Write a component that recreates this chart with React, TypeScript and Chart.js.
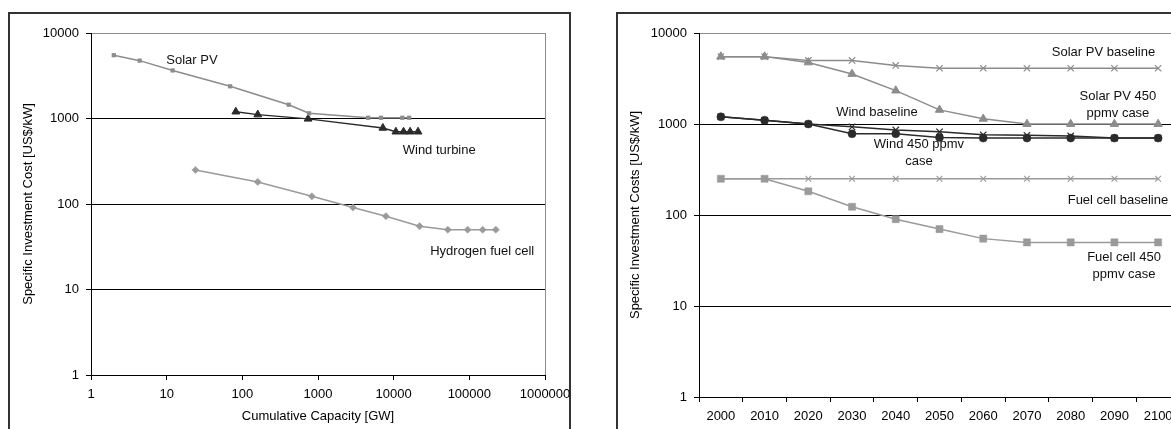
import { useEffect, useRef } from 'react';
import { Chart, registerables } from 'chart.js';

Chart.register(...registerables);

const FONT = '"Liberation Sans", Arial, Helvetica, sans-serif';
const FS = 13;
const GRAY = '#8c8c8c';
const LIGHT = '#9a9a9a';
const DARK = '#2b2b2b';

// ---- Learning curves: cost vs. cumulative installed capacity ----
const solarCapacity = [2, 4.4, 12, 69, 410, 760, 4600, 6800, 13000, 16000];
const solarCost = [5500, 4750, 3650, 2380, 1450, 1150, 1020, 1020, 1020, 1020];

const windCapacity = [82, 160, 740, 7200, 10700, 13500, 16500, 21000];
const windCost = [1200, 1110, 990, 775, 700, 700, 700, 700];

const fuelCellCapacity = [24, 160, 830, 2900, 7900, 22000, 52000, 95000, 150000, 224000];
const fuelCellCost = [250, 181, 123, 91, 72, 55, 50, 50, 50, 50];

const capacityTicks = [1, 10, 100, 1000, 10000, 100000, 1000000];
const costTicks = [1, 10, 100, 1000, 10000];

// ---- Cost projections per decade ----
const years = ['2000', '2010', '2020', '2030', '2040', '2050', '2060', '2070', '2080', '2090', '2100'];
const solarBaseline = [5500, 5500, 5000, 5000, 4400, 4100, 4100, 4100, 4100, 4100, 4100];
const solar450 = [5500, 5500, 4750, 3550, 2330, 1430, 1140, 1000, 1000, 1000, 1000];
const windBaseline = [1200, 1100, 1000, 930, 860, 820, 760, 750, 740, 700, 700];
const wind450 = [1200, 1100, 1000, 780, 780, 710, 700, 700, 700, 700, 700];
const fuelCellBaseline = [250, 250, 250, 250, 250, 250, 250, 250, 250, 250, 250];
const fuelCell450 = [250, 250, 182, 123, 90, 70, 55, 50, 50, 50, 50];

type Note = { lines: string[]; x: number; y: number };

// Curve captions, anchored in data coordinates
const leftNotes: Note[] = [
  { lines: ['Solar PV'], x: 21.6, y: 4800 },
  { lines: ['Wind turbine'], x: 40000, y: 425 },
  { lines: ['Hydrogen fuel cell'], x: 148000, y: 28 },
];
const rightNotes: Note[] = [
  { lines: ['Solar PV baseline'], x: 8.75, y: 6150 },
  { lines: ['Solar PV 450', 'ppmv case'], x: 9.08, y: 2020 },
  { lines: ['Wind baseline'], x: 3.57, y: 1340 },
  { lines: ['Wind 450 ppmv', 'case'], x: 4.53, y: 590 },
  { lines: ['Fuel cell baseline'], x: 9.08, y: 146 },
  { lines: ['Fuel cell 450', 'ppmv case'], x: 9.22, y: 34 },
];

const notesPlugin = (notes: Note[]) => ({
  id: 'notes',
  afterDatasetsDraw(chart: any) {
    const { ctx } = chart;
    ctx.save();
    ctx.font = `${FS}px ${FONT}`;
    ctx.fillStyle = '#111';
    ctx.textAlign = 'center';
    ctx.textBaseline = 'middle';
    for (const n of notes) {
      const px = chart.scales.x.getPixelForValue(n.x);
      const py = chart.scales.y.getPixelForValue(n.y);
      n.lines.forEach((t, i) => ctx.fillText(t, px, py + i * 17));
    }
    ctx.restore();
  },
});

const axisFont = { family: FONT, size: FS };
const toPoints = (xs: number[], ys: number[]) => xs.map((x, i) => ({ x, y: ys[i] }));

function costAxis(title: string, titlePad: number, width: number) {
  return {
    type: 'logarithmic' as const,
    min: 1,
    max: 10000,
    afterBuildTicks: (s: any) => {
      s.ticks = costTicks.map((value) => ({ value }));
    },
    afterFit: (s: any) => {
      s.width = width;
    },
    ticks: {
      autoSkip: false,
      padding: 7,
      color: '#000',
      font: axisFont,
      callback: (v: any) => String(v),
    },
    grid: {
      color: (c: any) => (c.tick && c.tick.value === 10000 ? GRAY : '#000'),
      tickColor: '#000',
      tickLength: 5,
      lineWidth: 1,
    },
    border: { color: '#000', width: 1 },
    title: {
      display: true,
      text: title,
      color: '#000',
      font: axisFont,
      padding: { top: titlePad, bottom: 0 },
    },
  };
}

function LearningChart() {
  const ref = useRef<HTMLCanvasElement>(null);
  useEffect(() => {
    if (!ref.current) return;
    const chart = new Chart(ref.current, {
      type: 'line',
      data: {
        datasets: [
          {
            data: toPoints(solarCapacity, solarCost),
            borderColor: GRAY,
            borderWidth: 1.5,
            pointStyle: 'rect',
            pointRadius: 3,
            pointBackgroundColor: GRAY,
            pointBorderColor: GRAY,
            pointBorderWidth: 0,
          },
          {
            data: toPoints(windCapacity, windCost),
            borderColor: DARK,
            borderWidth: 1.5,
            pointStyle: 'triangle',
            pointRadius: 4.5,
            pointBackgroundColor: DARK,
            pointBorderColor: DARK,
            pointBorderWidth: 1,
          },
          {
            data: toPoints(fuelCellCapacity, fuelCellCost),
            borderColor: LIGHT,
            borderWidth: 1.5,
            pointStyle: 'rectRot',
            pointRadius: 3.6,
            pointBackgroundColor: LIGHT,
            pointBorderColor: LIGHT,
            pointBorderWidth: 0.5,
          },
        ],
      },
      options: {
        responsive: false,
        animation: false,
        devicePixelRatio: 1,
        layout: { padding: { top: 33, right: 35, left: 0, bottom: 0 } },
        plugins: { legend: { display: false }, tooltip: { enabled: false } },
        scales: {
          x: {
            type: 'logarithmic',
            min: 1,
            max: 1000000,
            afterBuildTicks: (s: any) => {
              s.ticks = capacityTicks.map((value) => ({ value }));
            },
            afterFit: (s: any) => {
              s.height = 54;
            },
            ticks: {
              autoSkip: false,
              maxRotation: 0,
              minRotation: 0,
              padding: 7,
              color: '#000',
              font: axisFont,
              callback: (v: any) => String(v),
            },
            grid: {
              color: (c: any) => (c.tick && c.tick.value === 1000000 ? GRAY : 'rgba(0,0,0,0)'),
              tickColor: '#000',
              tickLength: 5,
              lineWidth: 1,
            },
            border: { color: '#000', width: 1 },
            title: {
              display: true,
              text: 'Cumulative Capacity [GW]',
              color: '#000',
              font: axisFont,
              padding: { top: 0, bottom: 5.2 },
            },
          },
          y: costAxis('Specific Investment Cost [US$/kW]', 20.2, 91),
        },
      } as any,
      plugins: [notesPlugin(leftNotes)],
    });
    return () => chart.destroy();
  }, []);
  return (
    <canvas
      ref={ref}
      width={580}
      height={429}
      style={{ position: 'absolute', left: 0, top: 0, width: 580, height: 429 }}
    />
  );
}

function ProjectionChart() {
  const ref = useRef<HTMLCanvasElement>(null);
  useEffect(() => {
    if (!ref.current) return;
    const line = (data: number[], color: string, style: string, radius: number, markerColor: string, border: number) => ({
      data,
      borderColor: color,
      borderWidth: 1.5,
      pointStyle: style,
      pointRadius: radius,
      pointBackgroundColor: markerColor,
      pointBorderColor: markerColor,
      pointBorderWidth: border,
    });
    const chart = new Chart(ref.current, {
      type: 'line',
      data: {
        labels: years,
        datasets: [
          line(fuelCellBaseline, LIGHT, 'crossRot', 4, LIGHT, 1.1),
          line(fuelCell450, LIGHT, 'rect', 5, LIGHT, 0.5),
          line(solarBaseline, GRAY, 'crossRot', 4.5, GRAY, 1.2),
          line(solar450, GRAY, 'triangle', 4.8, GRAY, 1),
          line(windBaseline, DARK, 'crossRot', 4.5, DARK, 1.2),
          line(wind450, DARK, 'circle', 4, DARK, 0.5),
        ],
      },
      options: {
        responsive: false,
        animation: false,
        devicePixelRatio: 1,
        layout: { padding: { top: 33, right: 20, left: 0, bottom: 0 } },
        plugins: { legend: { display: false }, tooltip: { enabled: false } },
        scales: {
          x: {
            type: 'category',
            offset: true,
            afterFit: (s: any) => {
              s.height = 32;
            },
            ticks: {
              autoSkip: false,
              maxRotation: 0,
              minRotation: 0,
              padding: 6.5,
              color: '#000',
              font: axisFont,
            },
            grid: {
              offset: true,
              drawOnChartArea: false,
              tickColor: '#000',
              tickLength: 5,
              lineWidth: 1,
            },
            border: { color: '#000', width: 1 },
          },
          y: costAxis('Specific Investment Costs [US$/kW]', 37.7, 109),
        },
      } as any,
      plugins: [notesPlugin(rightNotes)],
    });
    return () => chart.destroy();
  }, []);
  return (
    <canvas
      ref={ref}
      width={610}
      height={429}
      style={{ position: 'absolute', left: 590, top: 0, width: 610, height: 429 }}
    />
  );
}

export default function App() {
  return (
    <div
      style={{
        position: 'absolute',
        left: 0,
        top: 0,
        width: 1171,
        height: 429,
        overflow: 'hidden',
        background: '#fff',
      }}
    >
      <div
        style={{
          position: 'absolute',
          left: 8,
          top: 12,
          width: 563,
          height: 450,
          border: '2px solid #333',
          boxSizing: 'border-box',
        }}
      />
      <div
        style={{
          position: 'absolute',
          left: 616,
          top: 12,
          width: 620,
          height: 450,
          border: '2px solid #333',
          boxSizing: 'border-box',
        }}
      />
      <LearningChart />
      <ProjectionChart />
    </div>
  );
}
